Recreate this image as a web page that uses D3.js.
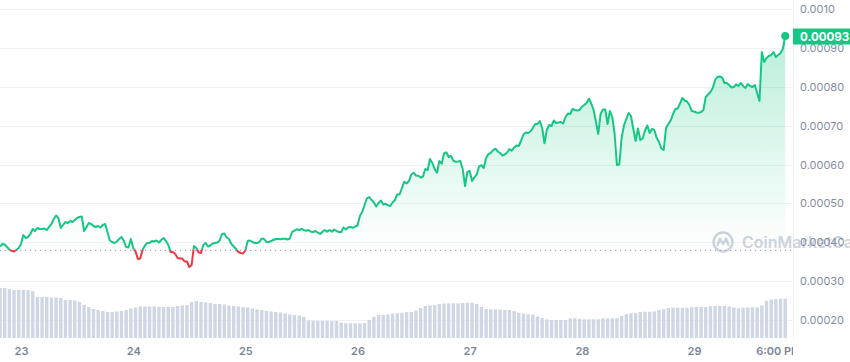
<!DOCTYPE html>
<html>
<head>
<meta charset="utf-8">
<script src="https://cdn.jsdelivr.net/npm/d3@7"></script>
<style>
  body { margin: 0; background: #fff; }
  svg { display: block; font-family: Inter, "Noto Sans", sans-serif; }
</style>
</head>
<body>
<div id="chart"></div>
<script>
// samples start 22nd 19:30; priceHour on the hour mark, priceHalf 30 min later
const startTime = "2024-03-22T19:30";

const priceHour = [
  0.0003887, 0.0003943, 0.0003815, 0.0003763, 0.0003853, 0.0004188, 0.0004136, 0.0004342, 0.0004368, 0.0004342,
  0.0004316, 0.0004471, 0.0004689, 0.0004368, 0.0004522, 0.0004548, 0.0004574, 0.0004651, 0.0004291, 0.0004496,
  0.0004419, 0.0004419, 0.0004445, 0.0004265, 0.0004008, 0.0004021, 0.0004136, 0.0003879, 0.0004085, 0.0003763,
  0.0003583, 0.0003918, 0.0003982, 0.0004021, 0.0003995, 0.0004111, 0.0003931, 0.0003750, 0.0003596, 0.0003583,
  0.0003506, 0.0003416, 0.0003853, 0.0003725, 0.0003982, 0.0003918, 0.0003982, 0.0004046, 0.0004226, 0.0004085,
  0.0003892, 0.0003750, 0.0003712, 0.0004033, 0.0004008, 0.0003982, 0.0004098, 0.0004008, 0.0004033, 0.0004085,
  0.0004077, 0.0004093, 0.0004098, 0.0004298, 0.0004316, 0.0004316, 0.0004316, 0.0004265, 0.0004247, 0.0004273,
  0.0004273, 0.0004273, 0.0004291, 0.0004265, 0.0004329, 0.0004394, 0.0004401, 0.0004677, 0.0004959, 0.0005165,
  0.0005024, 0.0005011, 0.0004972, 0.0004952, 0.0005024, 0.0005230, 0.0005397, 0.0005513, 0.0005744, 0.0005718,
  0.0005667, 0.0005885, 0.0006143, 0.0005885, 0.0006091, 0.0006289, 0.0006194, 0.0006099, 0.0006078, 0.0005885,
  0.0005808, 0.0005577, 0.0005744, 0.0005988, 0.0006168, 0.0006297, 0.0006408, 0.0006297, 0.0006258, 0.0006400,
  0.0006439, 0.0006477, 0.0006773, 0.0006812, 0.0006940, 0.0007043, 0.0006940, 0.0006889, 0.0006992, 0.0007069,
  0.0007094, 0.0007223, 0.0007300, 0.0007403, 0.0007403, 0.0007532, 0.0007694, 0.0007403, 0.0006786, 0.0007416,
  0.0007043, 0.0007223, 0.0005988, 0.0006683, 0.0007172, 0.0007249, 0.0006606, 0.0006631, 0.0006876, 0.0006812,
  0.0006889, 0.0006580, 0.0006374, 0.0007043, 0.0007300, 0.0007442, 0.0007712, 0.0007622, 0.0007377, 0.0007339,
  0.0007352, 0.0007738, 0.0007866, 0.0008175, 0.0008265, 0.0008098, 0.0008046, 0.0007995, 0.0008021, 0.0008021,
  0.0008072, 0.0007995, 0.0007840, 0.0008895, 0.0008741, 0.0008818, 0.0008766, 0.0008869, 0.0009307
];

const priceHalf = [
  0.0003956, 0.0003879, 0.0003776, 0.0003802, 0.0003956, 0.0004111, 0.0004214, 0.0004291, 0.0004342, 0.0004355,
  0.0004394, 0.0004599, 0.0004625, 0.0004445, 0.0004496, 0.0004522, 0.0004625, 0.0004664, 0.0004394, 0.0004471,
  0.0004394, 0.0004381, 0.0004471, 0.0004046, 0.0003982, 0.0004085, 0.0004033, 0.0003866, 0.0003853, 0.0003570,
  0.0003802, 0.0003982, 0.0004033, 0.0004046, 0.0004059, 0.0004033, 0.0003750, 0.0003699, 0.0003583, 0.0003506,
  0.0003365, 0.0003905, 0.0003738, 0.0003931, 0.0003892, 0.0003969, 0.0003995, 0.0004214, 0.0004123, 0.0003956,
  0.0003828, 0.0003725, 0.0003789, 0.0004046, 0.0003982, 0.0004008, 0.0004085, 0.0004008, 0.0004059, 0.0004085,
  0.0004090, 0.0004072, 0.0004265, 0.0004334, 0.0004342, 0.0004298, 0.0004273, 0.0004291, 0.0004214, 0.0004316,
  0.0004316, 0.0004329, 0.0004265, 0.0004381, 0.0004386, 0.0004373, 0.0004432, 0.0004779, 0.0005132, 0.0005088,
  0.0004921, 0.0005075, 0.0004990, 0.0004934, 0.0005088, 0.0005230, 0.0005559, 0.0005577, 0.0005790, 0.0005711,
  0.0005693, 0.0005860, 0.0006040, 0.0005790, 0.0006022, 0.0006315, 0.0006220, 0.0006073, 0.0006091, 0.0005448,
  0.0005834, 0.0005672, 0.0005950, 0.0005911, 0.0006271, 0.0006374, 0.0006336, 0.0006233, 0.0006310, 0.0006356,
  0.0006490, 0.0006619, 0.0006824, 0.0006850, 0.0007043, 0.0007120, 0.0006547, 0.0007017, 0.0007133, 0.0007082,
  0.0007056, 0.0007313, 0.0007429, 0.0007390, 0.0007488, 0.0007583, 0.0007570, 0.0007107, 0.0007300, 0.0007416,
  0.0007377, 0.0006799, 0.0006001, 0.0007004, 0.0007326, 0.0006922, 0.0006927, 0.0006670, 0.0007004, 0.0006914,
  0.0006683, 0.0006413, 0.0006940, 0.0007138, 0.0007429, 0.0007575, 0.0007648, 0.0007532, 0.0007365, 0.0007331,
  0.0007403, 0.0007802, 0.0007969, 0.0008252, 0.0008239, 0.0008098, 0.0007982, 0.0008064, 0.0008098, 0.0007969,
  0.0008021, 0.0008046, 0.0007635, 0.0008638, 0.0008792, 0.0008895, 0.0008818, 0.0008972
];

// hourly volume, millions
const volumes = [
  5.00, 5.00, 4.90, 4.80, 4.80, 4.80, 4.80, 4.70, 4.10, 4.10,
  4.10, 4.05, 4.05, 4.00, 3.80, 3.80, 3.75, 3.60, 3.30, 3.10,
  2.90, 2.80, 2.70, 2.60, 2.60, 2.65, 2.70, 2.80, 2.95, 3.05,
  3.15, 3.15, 3.15, 3.15, 3.10, 3.10, 3.10, 3.10, 3.20, 3.25,
  3.30, 3.60, 3.70, 3.60, 3.55, 3.50, 3.40, 3.40, 3.35, 3.25,
  3.20, 3.15, 3.10, 3.05, 2.95, 2.85, 2.80, 2.70, 2.65, 2.60,
  2.55, 2.45, 2.35, 2.30, 2.25, 2.10, 1.75, 1.73, 1.73, 1.73,
  1.73, 1.70, 1.70, 1.55, 1.47, 1.47, 1.47, 1.47, 1.50, 1.80,
  2.13, 2.30, 2.30, 2.35, 2.45, 2.47, 2.52, 2.57, 2.60, 2.75,
  3.00, 3.20, 3.25, 3.30, 3.40, 3.45, 3.47, 3.47, 3.47, 3.50,
  3.53, 3.53, 3.40, 3.10, 2.90, 2.87, 2.87, 2.85, 2.80, 2.80,
  2.70, 2.53, 2.45, 2.37, 2.35, 2.15, 2.00, 1.85, 1.80, 1.80,
  1.80, 1.80, 1.97, 1.97, 1.90, 1.87, 1.87, 1.87, 1.87, 1.97,
  1.97, 1.97, 2.00, 2.20, 2.40, 2.47, 2.50, 2.60, 2.63, 2.63,
  2.65, 2.80, 2.87, 3.00, 3.03, 3.03, 3.03, 3.03, 3.07, 3.10,
  3.10, 3.10, 3.17, 3.20, 3.20, 3.20, 3.15, 3.05, 2.97, 3.02,
  3.05, 3.07, 3.07, 3.25, 3.70, 3.85, 3.90, 3.93, 3.95
];

const baselinePrice = 0.000379;

const yTicks = [0.0002, 0.0003, 0.0004, 0.0005, 0.0006, 0.0007, 0.0008, 0.0009, 0.0010];
const yTickLabels = ["0.00020", "0.00030", "0.00040", "0.00050", "0.00060", "0.00070", "0.00080", "0.00090", "0.0010"];

const xTickTimes = ["2024-03-23T00:00", "2024-03-24T00:00", "2024-03-25T00:00", "2024-03-26T00:00",
                    "2024-03-27T00:00", "2024-03-28T00:00", "2024-03-29T00:00", "2024-03-29T18:00"];
const xTickLabels = ["23", "24", "25", "26", "27", "28", "29", "6:00 PM"];

const width = 850, height = 362;
const plotRight = 793;
const green = "#16c784", red = "#ea3943";

const parse = d3.timeParse("%Y-%m-%dT%H:%M");
const t0 = parse(startTime);

// merge the two price lists into one 30-minute series
const priceData = [];
priceHour.forEach((p, i) => {
  priceData.push({ t: d3.timeMinute.offset(t0, i * 60), p: p });
  if (i < priceHalf.length) priceData.push({ t: d3.timeMinute.offset(t0, i * 60 + 30), p: priceHalf[i] });
});
const volData = volumes.map((v, i) => ({ t: d3.timeHour.offset(t0, i), v: v }));

const svg = d3.select("#chart")
  .append("svg")
    .attr("width", width)
    .attr("height", height);

const x = d3.scaleTime()
    .domain(d3.extent(priceData, d => d.t))
    .range([0, 785.2]);

const y = d3.scaleLinear()
    .domain([0.0002, 0.0010])
    .range([320.05, 9.05]);

const yVol = d3.scaleLinear()
    .domain([0, 5])
    .range([338, 288]);

const yBase = y(baselinePrice);

const defs = svg.append("defs");

defs.append("clipPath").attr("id", "plotClip")
  .append("rect").attr("x", 0).attr("y", 0).attr("width", plotRight).attr("height", height);

// stroke: green above the baseline, red below
const lineGrad = defs.append("linearGradient")
    .attr("id", "lineGrad")
    .attr("gradientUnits", "userSpaceOnUse")
    .attr("x1", 0).attr("x2", 0).attr("y1", 0).attr("y2", height);
lineGrad.append("stop").attr("offset", yBase / height).attr("stop-color", green);
lineGrad.append("stop").attr("offset", yBase / height).attr("stop-color", red);

const areaGrad = defs.append("linearGradient")
    .attr("id", "areaGrad")
    .attr("gradientUnits", "userSpaceOnUse")
    .attr("x1", 0).attr("x2", 0).attr("y1", y(d3.max(priceHour))).attr("y2", yBase);
areaGrad.append("stop").attr("offset", 0).attr("stop-color", green).attr("stop-opacity", 0.3);
areaGrad.append("stop").attr("offset", 1).attr("stop-color", green).attr("stop-opacity", 0);

// grid lines
svg.append("g")
  .selectAll("line")
  .data(yTicks)
  .join("line")
    .attr("x1", 0)
    .attr("x2", plotRight)
    .attr("y1", d => Math.round(y(d)) + 0.5)
    .attr("y2", d => Math.round(y(d)) + 0.5)
    .attr("stroke", "#eff2f5")
    .attr("stroke-width", 1);

// right border
svg.append("line")
    .attr("x1", plotRight + 0.5).attr("x2", plotRight + 0.5)
    .attr("y1", 0).attr("y2", 340)
    .attr("stroke", "#eff2f5");

// watermark
const wm = svg.append("g").attr("transform", "translate(723,242)").attr("opacity", 0.55);
wm.append("circle").attr("r", 9.5).attr("fill", "none").attr("stroke", "#a6b0c3").attr("stroke-width", 2.4);
wm.append("path")
    .attr("d", "M-5.5,3 L-3,-3.5 L0,2 L3,-3.5 L5.5,3")
    .attr("fill", "none").attr("stroke", "#a6b0c3").attr("stroke-width", 2.2)
    .attr("stroke-linejoin", "round").attr("stroke-linecap", "round");
wm.append("text")
    .attr("x", 19).attr("y", 6)
    .attr("fill", "#a6b0c3")
    .attr("font-size", 16)
    .attr("font-weight", 600)
    .text("CoinMarketCap");

// volume bars
svg.append("g")
    .attr("clip-path", "url(#plotClip)")
  .selectAll("rect")
  .data(volData)
  .join("rect")
    .attr("x", d => x(d.t) - 1.7)
    .attr("y", d => yVol(d.v))
    .attr("width", 3.4)
    .attr("height", d => yVol(0) - yVol(d.v))
    .attr("fill", "#cfd6e4");

// baseline (dotted)
svg.append("line")
    .attr("x1", 0).attr("x2", plotRight)
    .attr("y1", yBase).attr("y2", yBase)
    .attr("stroke", "#a1a7bb")
    .attr("stroke-width", 1.2)
    .attr("stroke-dasharray", "1.2,3.8");

// area under price
svg.append("path")
    .datum(priceData)
    .attr("fill", "url(#areaGrad)")
    .attr("d", d3.area()
      .x(d => x(d.t))
      .y0(yBase)
      .y1(d => y(d.p)));

// price line
svg.append("path")
    .datum(priceData)
    .attr("fill", "none")
    .attr("stroke", "url(#lineGrad)")
    .attr("stroke-width", 2)
    .attr("stroke-linejoin", "round")
    .attr("d", d3.line()
      .x(d => x(d.t))
      .y(d => y(d.p)));

// end dot
const last = priceData[priceData.length - 1];
svg.append("circle")
    .attr("cx", x(last.t))
    .attr("cy", y(last.p))
    .attr("r", 4)
    .attr("fill", green);

// y axis
const yAxis = svg.append("g")
    .attr("transform", `translate(${plotRight},0)`)
    .call(d3.axisRight(y).tickValues(yTicks).tickFormat((d, i) => yTickLabels[i]).tickSize(0).tickPadding(7));
yAxis.select(".domain").remove();
yAxis.selectAll("text")
    .attr("fill", "#858ca2")
    .attr("font-size", 11)
    .attr("font-family", "Inter, sans-serif");

// current price badge
svg.append("rect")
    .attr("x", plotRight)
    .attr("y", 28.5)
    .attr("width", width - plotRight)
    .attr("height", 16)
    .attr("fill", green);
svg.append("text")
    .attr("x", plotRight + 7)
    .attr("y", 36.5)
    .attr("dy", "0.35em")
    .attr("fill", "#fff")
    .attr("font-size", 11.5)
    .attr("font-weight", 700)
    .text(d3.format(".5f")(last.p));

// x axis
const parsedTicks = xTickTimes.map(parse);
const xAxis = svg.append("g")
    .attr("clip-path", "url(#plotClip)")
  .append("g")
    .attr("transform", "translate(0,338)")
    .call(d3.axisBottom(x).tickValues(parsedTicks).tickFormat((d, i) => xTickLabels[i]).tickSize(0).tickPadding(9));
xAxis.select(".domain").remove();
xAxis.selectAll("text")
    .attr("fill", "#7d8499")
    .attr("font-size", 11)
    .attr("font-weight", 600)
    .attr("font-family", "Inter, sans-serif");
</script>
</body>
</html>
